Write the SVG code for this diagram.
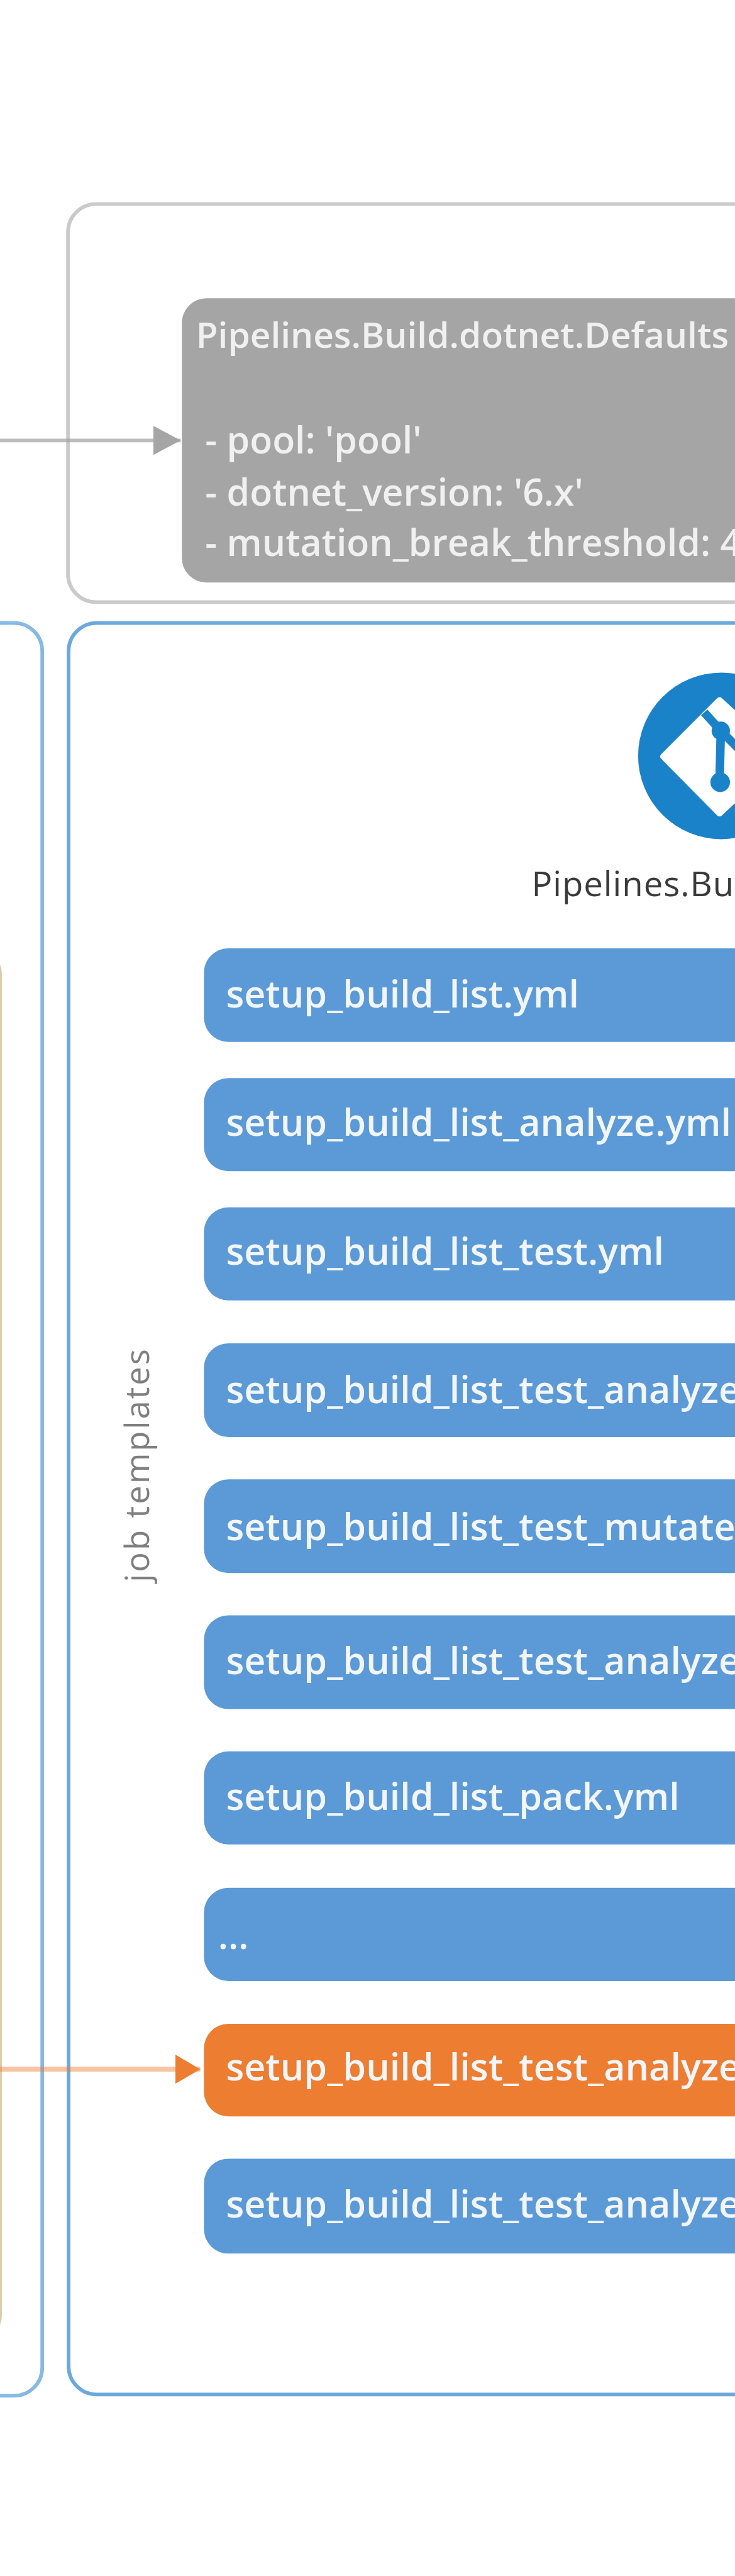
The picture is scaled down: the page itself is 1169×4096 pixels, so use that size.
<svg xmlns="http://www.w3.org/2000/svg" width="1169" height="4096" viewBox="0 0 1169 4096">
<style>
text{font-family:"Open Sans","Noto Sans","Liberation Sans",sans-serif}
.frame{fill:none;stroke-width:6}
.item{fill:#5b9ad6}
.orange{fill:#ed7d31}
.t{fill:#f2f6fb;font-size:60.8px;font-weight:600}
.g{fill:#f0f0f0;font-size:60.5px;font-weight:600}
</style>
<defs>
<marker id="ag" markerUnits="userSpaceOnUse" markerWidth="46" markerHeight="50" refX="45" refY="25" orient="auto"><polygon points="0,1 45,25 0,49" fill="#a5a5a5"/></marker>
<marker id="ao" markerUnits="userSpaceOnUse" markerWidth="42" markerHeight="50" refX="41" refY="25" orient="auto"><polygon points="0,1 41,25 0,49" fill="#ed7d31"/></marker>
</defs>
<rect width="1169" height="4096" fill="#ffffff"/>
<g transform="scale(0.974)">
<g id="defaults-frame"><rect class="frame" x="111" y="333" width="1200" height="650" rx="46" ry="46" stroke="#cacaca"/></g>
<g id="defaults-node">
<rect x="297" y="487" width="1000" height="464" rx="40" ry="40" fill="#a5a5a5"/>
<text class="g" style="font-size:58.3px" x="320" y="568">Pipelines.Build.dotnet.Defaults</text>
<text class="g" x="335" y="740">- pool: 'pool'</text>
<text class="g" x="335" y="825">- dotnet_version: '6.x'</text>
<text class="g" x="335" y="908">- mutation_break_threshold: 4</text>
</g>
<g id="left-frame"><rect class="frame" x="-400" y="1017" width="469" height="2894" rx="46" ry="46" stroke="#86b9e3"/></g>
<g id="left-inner-frame"><rect x="-600" y="1550" width="601" height="2270" rx="40" ry="40" fill="none" stroke="#dccba8" stroke-width="4"/></g>
<g id="jobs-frame"><rect class="frame" x="112" y="1017" width="1200" height="2892" rx="46" ry="46" stroke="#6ca8dc"/></g>
<g id="repo-icon">
<circle cx="1178" cy="1234" r="136" fill="#1a82c8"/>
<path d="M1083 1235 L1175 1143 L1275 1235 L1175 1328 Z" fill="#ffffff" stroke="#ffffff" stroke-width="10" stroke-linejoin="round"/>
<path d="M1150 1163 L1177 1193 L1175 1277 M1177 1193 L1210 1226" fill="none" stroke="#1a82c8" stroke-width="14"/>
<circle cx="1177" cy="1193" r="15" fill="#1a82c8"/>
<circle cx="1176" cy="1277" r="16" fill="#1a82c8"/>
<text x="868" y="1463" font-size="56" letter-spacing="1" fill="#3a3a3a">Pipelines.Bu</text>
</g>
<g id="job-templates-label"><text transform="translate(243 2583) rotate(-90)" font-size="54" letter-spacing="3" fill="#7f7f7f">job templates</text></g>
<g id="item-1"><rect class="item" x="333" y="1548" width="950" height="153" rx="40"/><text class="t" x="369" y="1645">setup_build_list.yml</text></g>
<g id="item-2"><rect class="item" x="333" y="1760" width="950" height="152" rx="40"/><text class="t" x="369" y="1854">setup_build_list_analyze.yml</text></g>
<g id="item-3"><rect class="item" x="333" y="1971" width="950" height="152" rx="40"/><text class="t" x="369" y="2065">setup_build_list_test.yml</text></g>
<g id="item-4"><rect class="item" x="333" y="2193" width="950" height="153" rx="40"/><text class="t" x="369" y="2291">setup_build_list_test_analyze</text></g>
<g id="item-5"><rect class="item" x="333" y="2415" width="950" height="153" rx="40"/><text class="t" x="369" y="2514">setup_build_list_test_mutate</text></g>
<g id="item-6"><rect class="item" x="333" y="2637" width="950" height="153" rx="40"/><text class="t" x="369" y="2733">setup_build_list_test_analyze</text></g>
<g id="item-7"><rect class="item" x="333" y="2859" width="950" height="152" rx="40"/><text class="t" x="369" y="2955">setup_build_list_pack.yml</text></g>
<g id="item-8"><rect class="item" x="333" y="3082" width="950" height="152" rx="40"/><text class="t" x="356" y="3182">...</text></g>
<g id="item-9"><rect class="orange" x="333" y="3304" width="950" height="151" rx="40"/><text class="t" x="369" y="3396">setup_build_list_test_analyze</text></g>
<g id="item-10"><rect class="item" x="333" y="3524" width="950" height="155" rx="40"/><text class="t" x="369" y="3620">setup_build_list_test_analyze</text></g>
<g id="connectors">
<line x1="0" y1="719" x2="295" y2="719" stroke="#a5a5a5" stroke-opacity=".75" stroke-width="6" marker-end="url(#ag)"/>
<line x1="0" y1="3378" x2="327" y2="3378" stroke="#ed7d31" stroke-opacity=".45" stroke-width="8" marker-end="url(#ao)"/>
</g>
</g>
</svg>
